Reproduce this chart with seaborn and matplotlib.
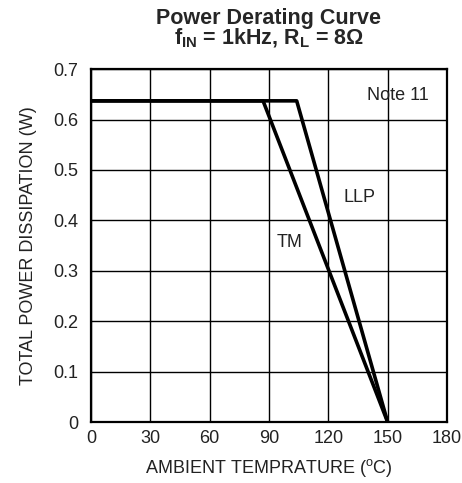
import matplotlib
matplotlib.use("Agg")
import matplotlib.pyplot as plt
import numpy as np
import pandas as pd
import seaborn as sns

# derating curves
tm_temp = [0, 87, 150]
tm_power = [0.637, 0.637, 0.0]
llp_temp = [0, 104, 150]
llp_power = [0.637, 0.637, 0.0]

x_ticks = [0, 30, 60, 90, 120, 150, 180]
y_ticks = [0, 0.1, 0.2, 0.3, 0.4, 0.5, 0.6, 0.7]
y_labels = ['0', '0.1', '0.2', '0.3', '0.4', '0.5', '0.6', '0.7']

df = pd.DataFrame({
    'temp': tm_temp + llp_temp,
    'power': tm_power + llp_power,
    'pkg': ['TM'] * len(tm_temp) + ['LLP'] * len(llp_temp),
})

sns.set_style('white')
plt.rcParams['font.family'] = ['Liberation Sans', 'DejaVu Sans']
plt.rcParams['mathtext.fontset'] = 'custom'
plt.rcParams['mathtext.rm'] = 'Liberation Sans'
plt.rcParams['mathtext.bf'] = 'Liberation Sans:bold'

fig = plt.figure(figsize=(4.62, 4.83), dpi=100)
ax = fig.add_axes([0.197, 0.126, 0.7705, 0.731])

sns.lineplot(data=df, x='temp', y='power', hue='pkg', units='pkg', estimator=None,
             palette={'TM': 'black', 'LLP': 'black'}, linewidth=2.6,
             legend=False, ax=ax, sort=False)

ax.set_xlim(0, 180)
ax.set_ylim(0, 0.7)
ax.set_xticks(x_ticks)
ax.set_yticks(y_ticks)
ax.set_yticklabels(y_labels)
ax.grid(True, color='black', linewidth=1.0)
ax.set_axisbelow(True)
for s in ax.spines.values():
    s.set_visible(True)
    s.set_color('black')
    s.set_linewidth(1.6)
ax.tick_params(length=0, labelsize=13, colors='#222222', pad=6)
ax.tick_params(axis='y', pad=9)

ax.set_xlabel(r'AMBIENT TEMPRATURE ($^\mathrm{o}$C)', fontsize=13, labelpad=7, color='#222222')
ax.set_ylabel('TOTAL POWER DISSIPATION (W)', fontsize=13, labelpad=12, color='#222222')
ax.set_title('Power Derating Curve\n' + r'f$_\mathbf{IN}$ = 1kHz, R$_\mathbf{L}$ = 8Ω',
             fontsize=15.5, fontweight='bold', linespacing=0.85, pad=18)

ax.text(155, 0.648, 'Note 11', fontsize=13, ha='center', va='center', color='#222222')
ax.text(136, 0.446, 'LLP', fontsize=13, ha='center', va='center', color='#222222')
ax.text(100.6, 0.357, 'TM', fontsize=13, ha='center', va='center', color='#222222')

fig.savefig('out.png', dpi=100)
